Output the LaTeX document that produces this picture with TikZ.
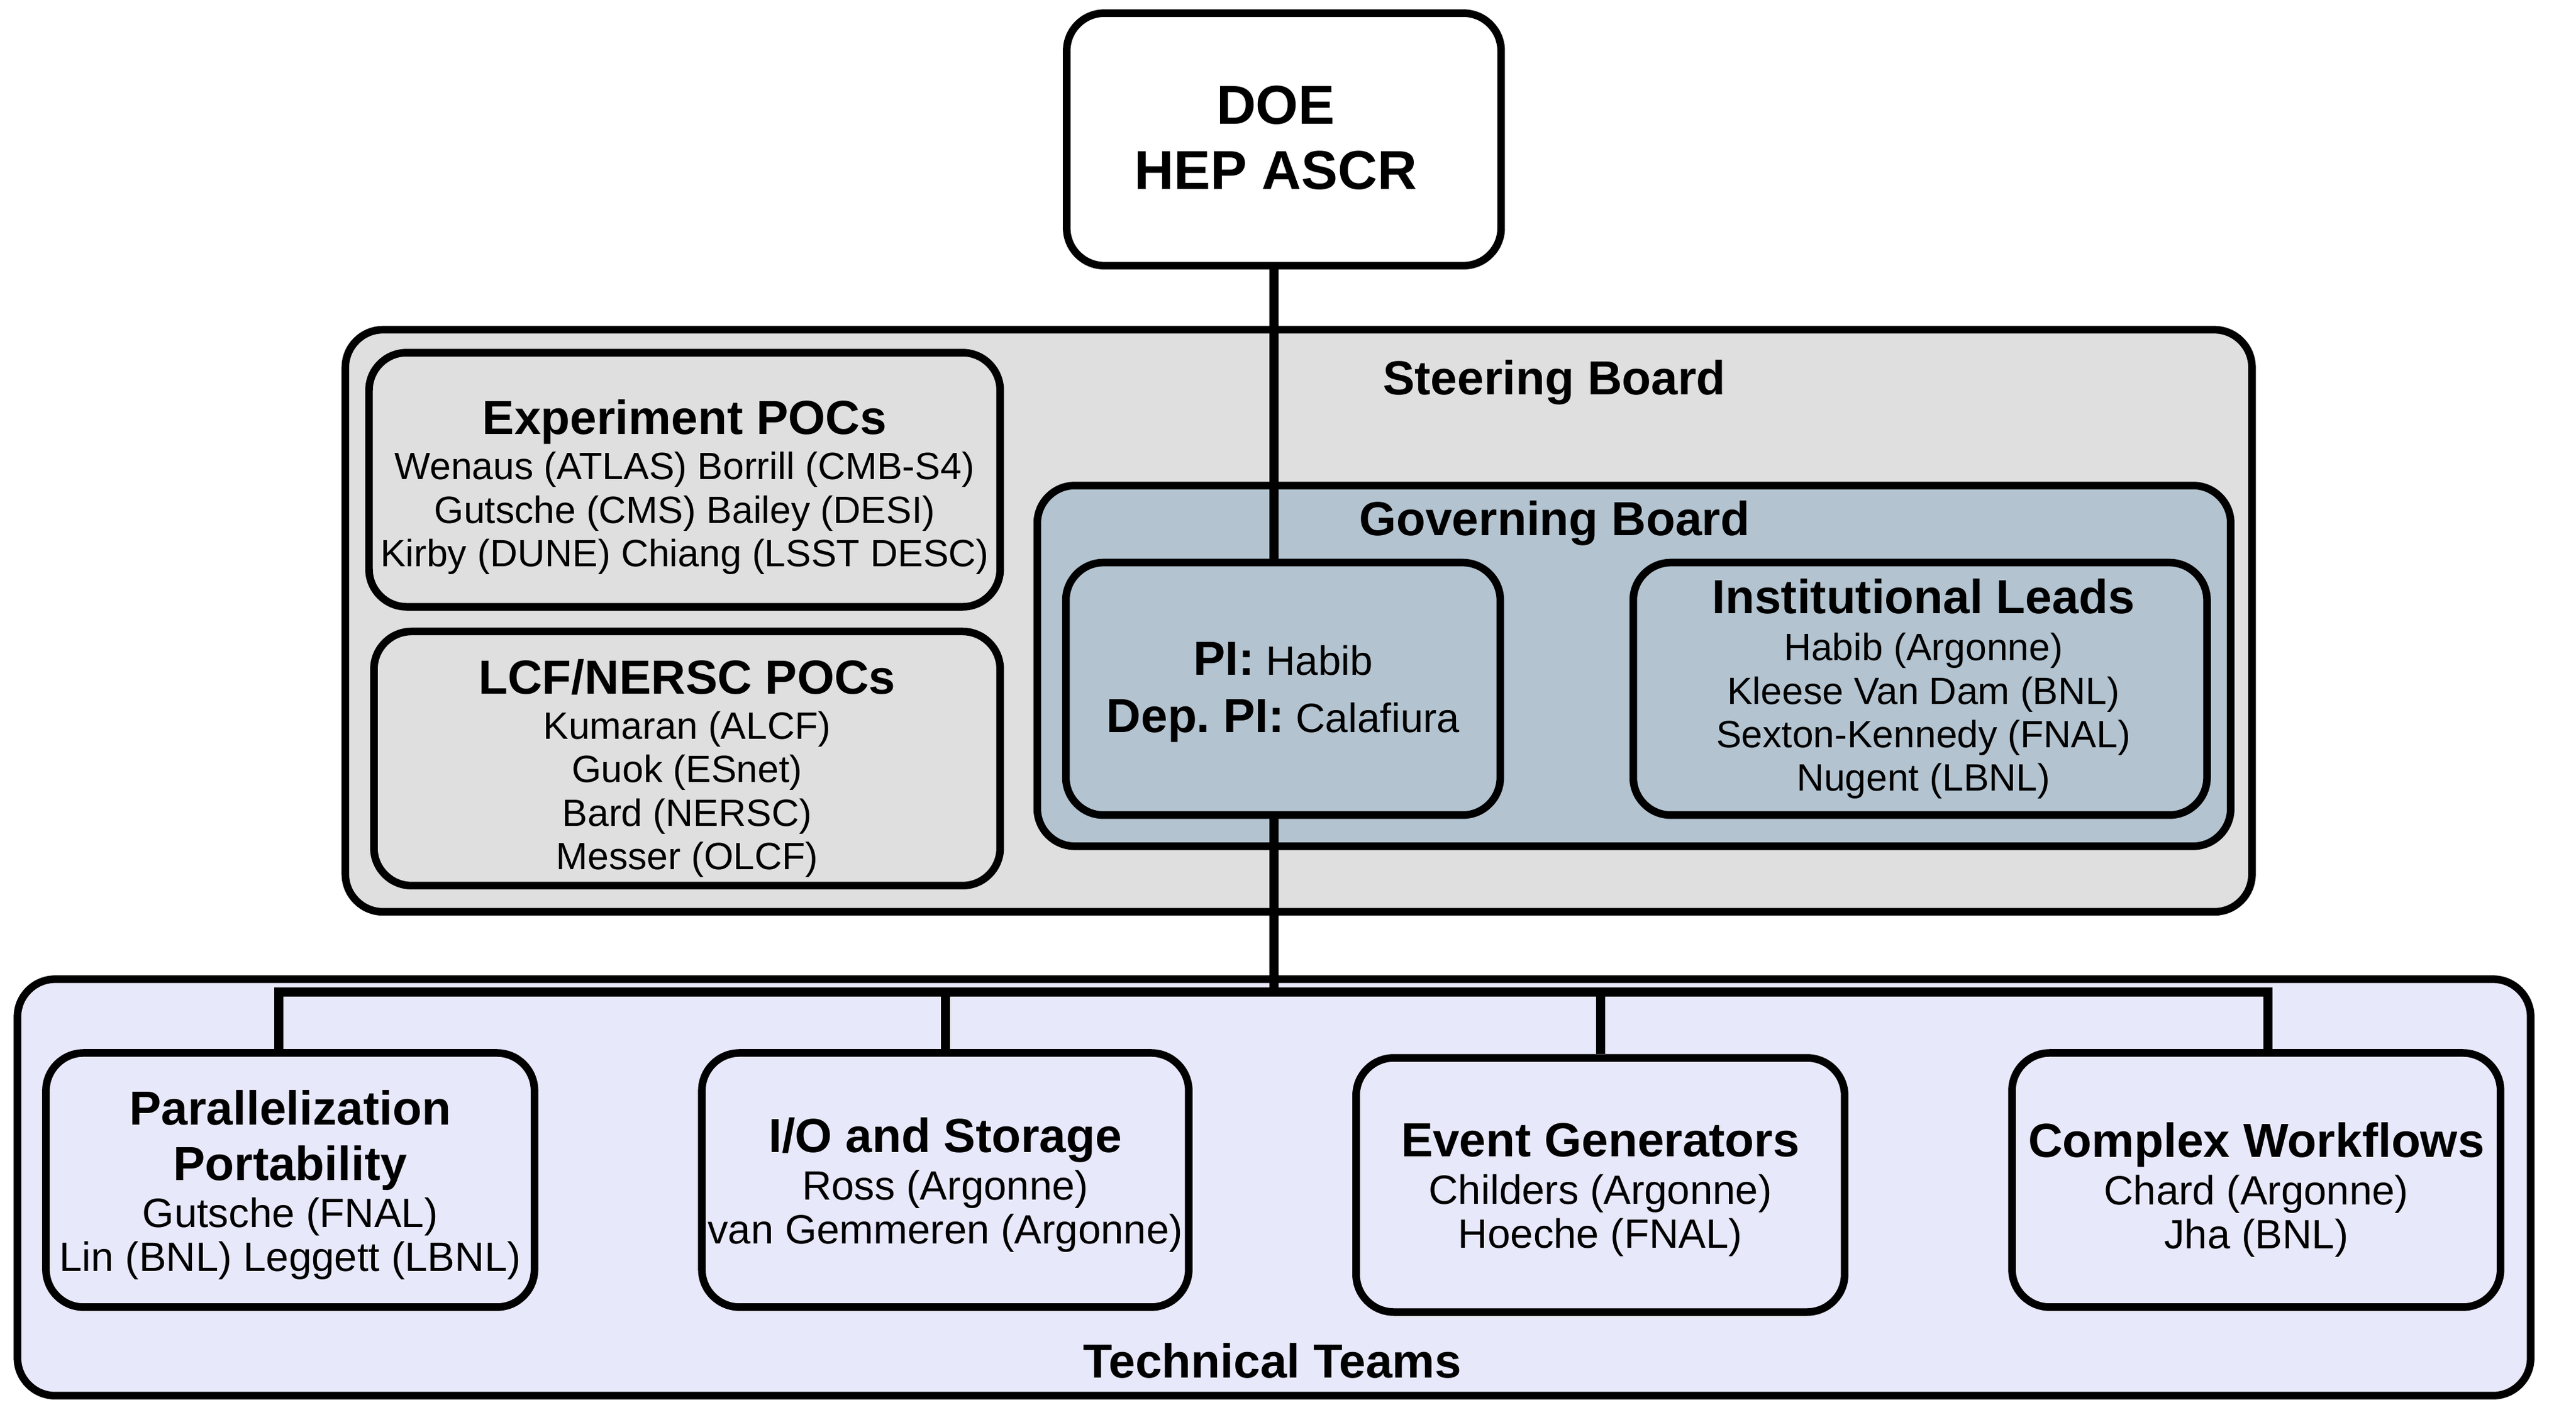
\documentclass[tikz,border=0pt]{standalone}
\usepackage{fontspec}
\setmainfont{Liberation Sans}
\frenchspacing
\definecolor{steerfill}{HTML}{DFDFDF}
\definecolor{govfill}{HTML}{B3C3D0}
\definecolor{techfill}{HTML}{E8E8FB}
\newcommand\boxtitle[1]{{\fontsize{16.6}{19.3}\selectfont\bfseries #1}}
\begin{document}
\begin{tikzpicture}[x=0.02cm,y=-0.02cm,
  box/.style={draw=black, line width=2.64pt, rounded corners=0.46cm, inner sep=0pt},
  txt/.style={inner sep=0pt, align=center, font=\fontsize{13.2}{15.1}\selectfont},
  txtbig/.style={inner sep=0pt, align=center, font=\fontsize{14.2}{15.2}\selectfont},
  titlelbl/.style={inner sep=0pt, anchor=base, font=\fontsize{16.6}{19.3}\selectfont\bfseries},
  conn/.style={draw=black, line width=3.16pt}]
\useasboundingbox (0,0) rectangle (1571,856.3);
\fill[white] (0,0) rectangle (1571,856.3);

% outer containers
\node[box, fill=steerfill, minimum width=23.26cm, minimum height=7.10cm] (steer) at (792,378.5) {};
\node[box, fill=techfill, minimum width=30.66cm, minimum height=5.08cm] (tech) at (777,724) {};
\node[box, fill=govfill, minimum width=14.56cm, minimum height=4.40cm] (gov) at (996.5,406) {};

\node[titlelbl] (steerlbl) at (948,240.5) {Steering Board};
\node[titlelbl] (govlbl) at (948,326.5) {Governing Board};
\node[titlelbl] (techlbl) at (776,840) {Technical Teams};

% top
\node[box, fill=white, minimum width=5.30cm, minimum height=3.08cm] (doe) at (783,85) {};
\node[txt, font=\fontsize{19}{22.8}\selectfont\bfseries] (doetxt) at ([xshift=-0.1cm,yshift=0.02cm]doe.center) {DOE\\HEP ASCR};

% steering board contents
\node[box, fill=steerfill, minimum width=7.70cm, minimum height=3.10cm] (exp) at (417.5,292.5) {};
\node[txt] (exptxt) at ([yshift=-0.09cm]exp.center)
  {\boxtitle{Experiment POCs}\\[0.6pt]Wenaus (ATLAS) Borrill (CMB-S4)\\Gutsche (CMS) Bailey (DESI)\\Kirby (DUNE) Chiang (LSST DESC)};
\node[box, fill=steerfill, minimum width=7.64cm, minimum height=3.10cm] (lcf) at (419,462.5) {};
\node[txt] (lcftxt) at ([yshift=-0.12cm]lcf.center)
  {\boxtitle{LCF/NERSC POCs}\\[0.6pt]Kumaran (ALCF)\\Guok (ESnet)\\Bard (NERSC)\\Messer (OLCF)};

% governing board contents
\node[box, fill=govfill, minimum width=5.30cm, minimum height=3.08cm] (pi) at (782.5,420) {};
\node[txtbig] (pitxt) at ([yshift=-0.04cm]pi.center)
  {\boxtitle{PI:} Habib\\[4.6pt]\boxtitle{Dep. PI:} Calafiura};
\node[box, fill=govfill, minimum width=7.00cm, minimum height=3.08cm] (inst) at (1171,420) {};
\node[txt] (insttxt) at ([xshift=0.04cm]inst.center)
  {\boxtitle{Institutional Leads}\\[1.3pt]Habib (Argonne)\\Kleese Van Dam (BNL)\\Sexton-Kennedy (FNAL)\\Nugent (LBNL)};

% technical teams
\node[box, fill=techfill, minimum width=5.96cm, minimum height=3.10cm] (par) at (177,719.5) {};
\node[txtbig] (partxt) at ([yshift=-0.06cm]par.center)
  {\boxtitle{Parallelization}\\[4.1pt]\boxtitle{Portability}\\[1.2pt]Gutsche (FNAL)\\Lin (BNL) Leggett (LBNL)};
\node[box, fill=techfill, minimum width=5.94cm, minimum height=3.10cm] (io) at (576.5,719.5) {};
\node[txtbig] (iotxt) at ([yshift=-0.06cm]io.center)
  {\boxtitle{I/O and Storage}\\[1.2pt]Ross (Argonne)\\van Gemmeren (Argonne)};
\node[box, fill=techfill, minimum width=5.96cm, minimum height=3.10cm] (eg) at (976,722.5) {};
\node[txtbig] (egtxt) at ([yshift=-0.06cm]eg.center)
  {\boxtitle{Event Generators}\\[1.2pt]Childers (Argonne)\\Hoeche (FNAL)};
\node[box, fill=techfill, minimum width=5.96cm, minimum height=3.10cm] (cw) at (1376,719.5) {};
\node[txtbig] (cwtxt) at ([yshift=-0.12cm]cw.center)
  {\boxtitle{Complex Workflows}\\[1.2pt]Chard (Argonne)\\Jha (BNL)};

% connectors
\coordinate (spine) at (777,0);
\coordinate (barL) at (170,605);
\coordinate (barR) at (1383,605);
\draw[conn] (doe.south -| spine) -- (pi.north -| spine);
\draw[conn] (pi.south -| spine) -- (spine |- barL);
\draw[conn] (par.north -| barL) -- (barL) -- (barR) -- (cw.north -| barR);
\draw[conn] (io.north) -- (io.north |- barL);
\draw[conn] (eg.north) -- (eg.north |- barL);
\end{tikzpicture}
\end{document}
